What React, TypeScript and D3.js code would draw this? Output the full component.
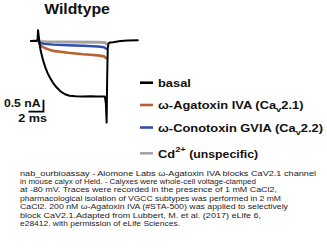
import React from "react";
import * as d3 from "d3";

// ---- data (time in ms relative to step onset, current in nA) ----
const basalT = [-0.95, -0.5, -0.2, -0.05, 0.0, 0.1, 0.2, 0.35, 0.7, 1.0, 1.3, 1.6, 2.0, 2.5, 3.0, 3.6, 4.2, 5.0, 6.0, 7.0, 8.0, 8.9, 9.05, 9.15, 9.22, 9.3, 9.4, 9.6, 10.0, 11.0, 12.0, 13.3];
const basalI = [0, 0.01, 0, 0.08, 0.45, 0.2, -0.1, -0.4, -0.83, -1.12, -1.35, -1.53, -1.74, -1.94, -2.1, -2.22, -2.28, -2.3, -2.31, -2.3, -2.31, -2.31, -2.6, -3.4, -1.6, -0.3, -0.1, -0.06, -0.05, 0.0, 0.02, 0.03];

const agaT = [0.05, 0.2, 0.5, 0.9, 1.5, 2.0, 3.0, 4.0, 5.0, 6.0, 7.0, 8.0, 8.8, 9.1];
const agaI = [0, -0.12, -0.22, -0.29, -0.36, -0.41, -0.45, -0.49, -0.52, -0.55, -0.57, -0.6, -0.64, -0.72];

const conoT = [0.05, 0.3, 0.8, 2.0, 4.0, 6.0, 8.0, 8.8, 9.1];
const conoI = [0, -0.08, -0.12, -0.15, -0.18, -0.2, -0.23, -0.26, -0.32];

const cdT = [0.05, 0.3, 1.0, 4.0, 8.0, 8.9, 9.1];
const cdI = [0.05, -0.02, -0.03, -0.04, -0.05, -0.06, -0.12];

const seriesNames = ["basal", "ω-Agatoxin IVA", "ω-Conotoxin GVIA", "Cd"];
const seriesColors = ["#000000", "#b8622e", "#2d4fae", "#a4a4a4"];

const title = "Wildtype";
const scaleBarMs = 2;
const scaleBarNa = 0.5;

const captionLines = [
  "nab_ourbioassay - Alomone Labs ω-Agatoxin IVA blocks CaV2.1 channel",
  "in mouse calyx of Held. - Calyxes were whole-cell voltage-clamped",
  "at -80 mV. Traces were recorded in the presence of 1 mM CaCl2,",
  "pharmacological isolation of VGCC subtypes was performed in 2 mM",
  "CaCl2. 200 nM ω-Agatoxin IVA (#STA-500) was applied to selectively",
  "block CaV2.1.Adapted from Lubbert, M. et al. (2017) eLife 6,",
  "e28412. with permission of eLife Sciences.",
];
const captionWidths = [296, 236, 257, 261, 268, 241, 160];

export default function App() {
  const W = 327;
  const H = 250;
  // 2 ms = 15 px, 0.5 nA = 12 px
  const x = d3.scaleLinear().domain([0, 2]).range([38, 53]);
  const y = d3.scaleLinear().domain([0, -0.5]).range([41, 53]);

  const mk = (ts: number[], is: number[]) =>
    ts.map((t, i) => [t, is[i]] as [number, number]);
  const line = d3
    .line<[number, number]>()
    .x((d) => x(d[0]))
    .y((d) => y(d[1]))
    .curve(d3.curveLinear);

  const traces = [
    { d: mk(cdT, cdI), c: seriesColors[3], w: 3 },
    { d: mk(agaT, agaI), c: seriesColors[1], w: 2.6 },
    { d: mk(conoT, conoI), c: seriesColors[2], w: 2.4 },
    { d: mk(basalT, basalI), c: seriesColors[0], w: 2 },
  ];

  const sbRight = 43.5;
  const sbBottom = 111.7;
  const sbW = x(scaleBarMs) - x(0);
  const sbH = y(-scaleBarNa) - y(0);

  const legendY = [82.7, 105, 127.5, 153.3];
  const legendX0 = 140;
  const legendX1 = 153;
  const textX = 158;
  const sx = 1.17;
  const fBold = "'Liberation Sans', Arial, sans-serif";

  return (
    <svg width={W} height={H} style={{ position: "absolute", left: 0, top: 0, background: "#fff" }}>
      <rect width={W} height={H} fill="#fff" />
      <text
        transform={`translate(77,13.5) scale(1.13,1)`}
        textAnchor="middle"
        fontFamily={fBold}
        fontWeight="bold"
        fontSize={14}
        fill="#111"
      >
        {title}
      </text>

      {traces.map((t, i) => (
        <path
          key={i}
          d={line(t.d) || ""}
          fill="none"
          stroke={t.c}
          strokeWidth={t.w}
          strokeLinejoin="round"
          strokeLinecap="round"
        />
      ))}

      <path
        d={`M${sbRight},${sbBottom - sbH} L${sbRight},${sbBottom} L${sbRight - sbW},${sbBottom}`}
        fill="none"
        stroke="#000"
        strokeWidth={1.8}
      />
      <text
        transform={`translate(40.5,106.7) scale(1.06,1)`}
        textAnchor="end"
        fontFamily={fBold}
        fontWeight="bold"
        fontSize={11.5}
        fill="#111"
      >
        {`${scaleBarNa} nA`}
      </text>
      <text
        transform={`translate(18.3,121.7) scale(1.1,1)`}
        fontFamily={fBold}
        fontWeight="bold"
        fontSize={11.5}
        fill="#111"
      >
        {`${scaleBarMs} ms`}
      </text>

      {legendY.map((ly, i) => (
        <line key={i} x1={legendX0} x2={legendX1} y1={ly} y2={ly} stroke={seriesColors[i]} strokeWidth={2.6} />
      ))}
      <g fontFamily={fBold} fontWeight="bold" fontSize={11} fill="#111">
        <text transform={`translate(${textX},${legendY[0] + 4}) scale(${sx},1)`}>{seriesNames[0]}</text>
        <text transform={`translate(${textX},${legendY[1] + 4}) scale(${sx},1)`}>
          {seriesNames[1]} (Ca
          <tspan fontSize={8} dy={3}>v</tspan>
          <tspan dy={-3}>2.1)</tspan>
        </text>
        <text transform={`translate(${textX},${legendY[2] + 4}) scale(${sx},1)`}>
          {seriesNames[2]} (Ca
          <tspan fontSize={8} dy={3}>v</tspan>
          <tspan dy={-3}>2.2)</tspan>
        </text>
        <text transform={`translate(${textX},${legendY[3] + 4.8}) scale(${sx},1)`}>
          {seriesNames[3]}
          <tspan fontSize={8} dy={-6}>2+</tspan>
          <tspan dy={6} fontSize={10.5}> (unspecific)</tspan>
        </text>
      </g>

      <g fontFamily="'Liberation Sans', Arial, sans-serif" fontSize={7.2} fill="#222">
        {captionLines.map((s, i) => (
          <text
            key={i}
            x={20}
            y={175.5 + i * 8.4}
            textLength={captionWidths[i]}
            lengthAdjust="spacingAndGlyphs"
          >
            {s}
          </text>
        ))}
      </g>
    </svg>
  );
}
